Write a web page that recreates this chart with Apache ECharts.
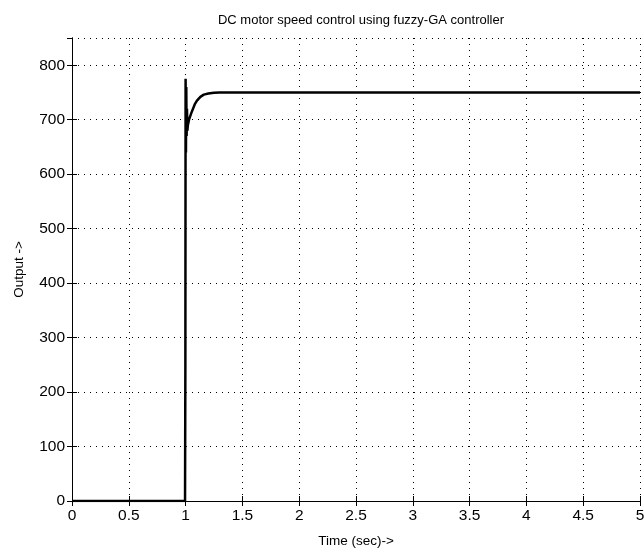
<!DOCTYPE html>
<html>
<head>
<meta charset="utf-8">
<script src="https://cdn.jsdelivr.net/npm/echarts@6/dist/echarts.min.js"></script>
<style>html,body{margin:0;padding:0;background:#fff;}#c{width:644px;height:551px;}</style>
</head>
<body>
<div id="c"></div>
<script>
var titleText = 'DC motor speed control using fuzzy-GA controller';
var xName = 'Time (sec)->';
var yName = 'Output ->';
var timeValues   = [0, 0.5, 0.995, 0.998, 1.000, 1.003, 1.006, 1.009, 1.012, 1.016, 1.02, 1.03, 1.05, 1.08, 1.1, 1.13, 1.16, 1.2, 1.25, 1.3, 1.5, 2, 3, 4, 5];
var outputValues = [0, 0, 0, 250, 775, 640, 760, 670, 720, 680, 690, 700, 712, 728, 735, 742, 746, 748, 749.5, 750, 750, 750, 750, 750, 750];

var data = timeValues.map(function(t, i){ return [t, outputValues[i]]; });
var chart = echarts.init(document.getElementById('c'));
var font = 'Liberation Sans, Arial, sans-serif';
var axisCommon = {
  axisLine: {show: true, onZero: false, lineStyle: {color: '#000', width: 1}},
  axisTick: {show: true, inside: true, length: 5, lineStyle: {color: '#000'}},
  splitLine: {show: true, lineStyle: {color: '#000', type: [1, 5], width: 1}}
};
chart.setOption({
  animation: false,
  backgroundColor: '#fff',
  title: {text: titleText, left: 356, textAlign: 'center', top: 9,
    textStyle: {fontSize: 13, fontWeight: 'normal', color: '#000', fontFamily: font}},
  grid: {left: 72, right: 4, top: 38, bottom: 50, containLabel: false, outerBoundsMode: 'none'},
  xAxis: [
    Object.assign({}, axisCommon, {type: 'value', min: 0, max: 5, interval: 0.5,
      name: xName, nameLocation: 'middle', nameGap: 33,
      nameTextStyle: {color: '#000', fontSize: 13.5, fontFamily: font},
      axisLabel: {color: '#000', fontSize: 15.5, fontFamily: font, margin: 7}}),
    {type: 'value', position: 'top', min: 0, max: 5, interval: 0.5,
      axisLine: {show: true, lineStyle: {color: '#000'}},
      axisTick: {show: true, inside: true, length: 5, lineStyle: {color: '#000'}},
      axisLabel: {show: false}, splitLine: {show: false}}
  ],
  yAxis: [
    Object.assign({}, axisCommon, {type: 'value', min: 0, max: 850, interval: 100,
      name: yName, nameLocation: 'middle', nameGap: 46,
      nameTextStyle: {color: '#000', fontSize: 13.5, fontFamily: font},
      axisLabel: {color: '#000', fontSize: 15.5, fontFamily: font, margin: 7, showMaxLabel: false}}),
    {type: 'value', position: 'right', min: 0, max: 850, interval: 100,
      axisLine: {show: true, lineStyle: {color: '#000'}},
      axisTick: {show: true, inside: true, length: 5, lineStyle: {color: '#000'}},
      axisLabel: {show: false}, splitLine: {show: false}}
  ],
  series: [{
    type: 'line', data: data, xAxisIndex: 0, yAxisIndex: 0,
    showSymbol: false, symbol: 'none',
    lineStyle: {color: '#000', width: 2.5}
  }]
});
</script>
</body>
</html>
